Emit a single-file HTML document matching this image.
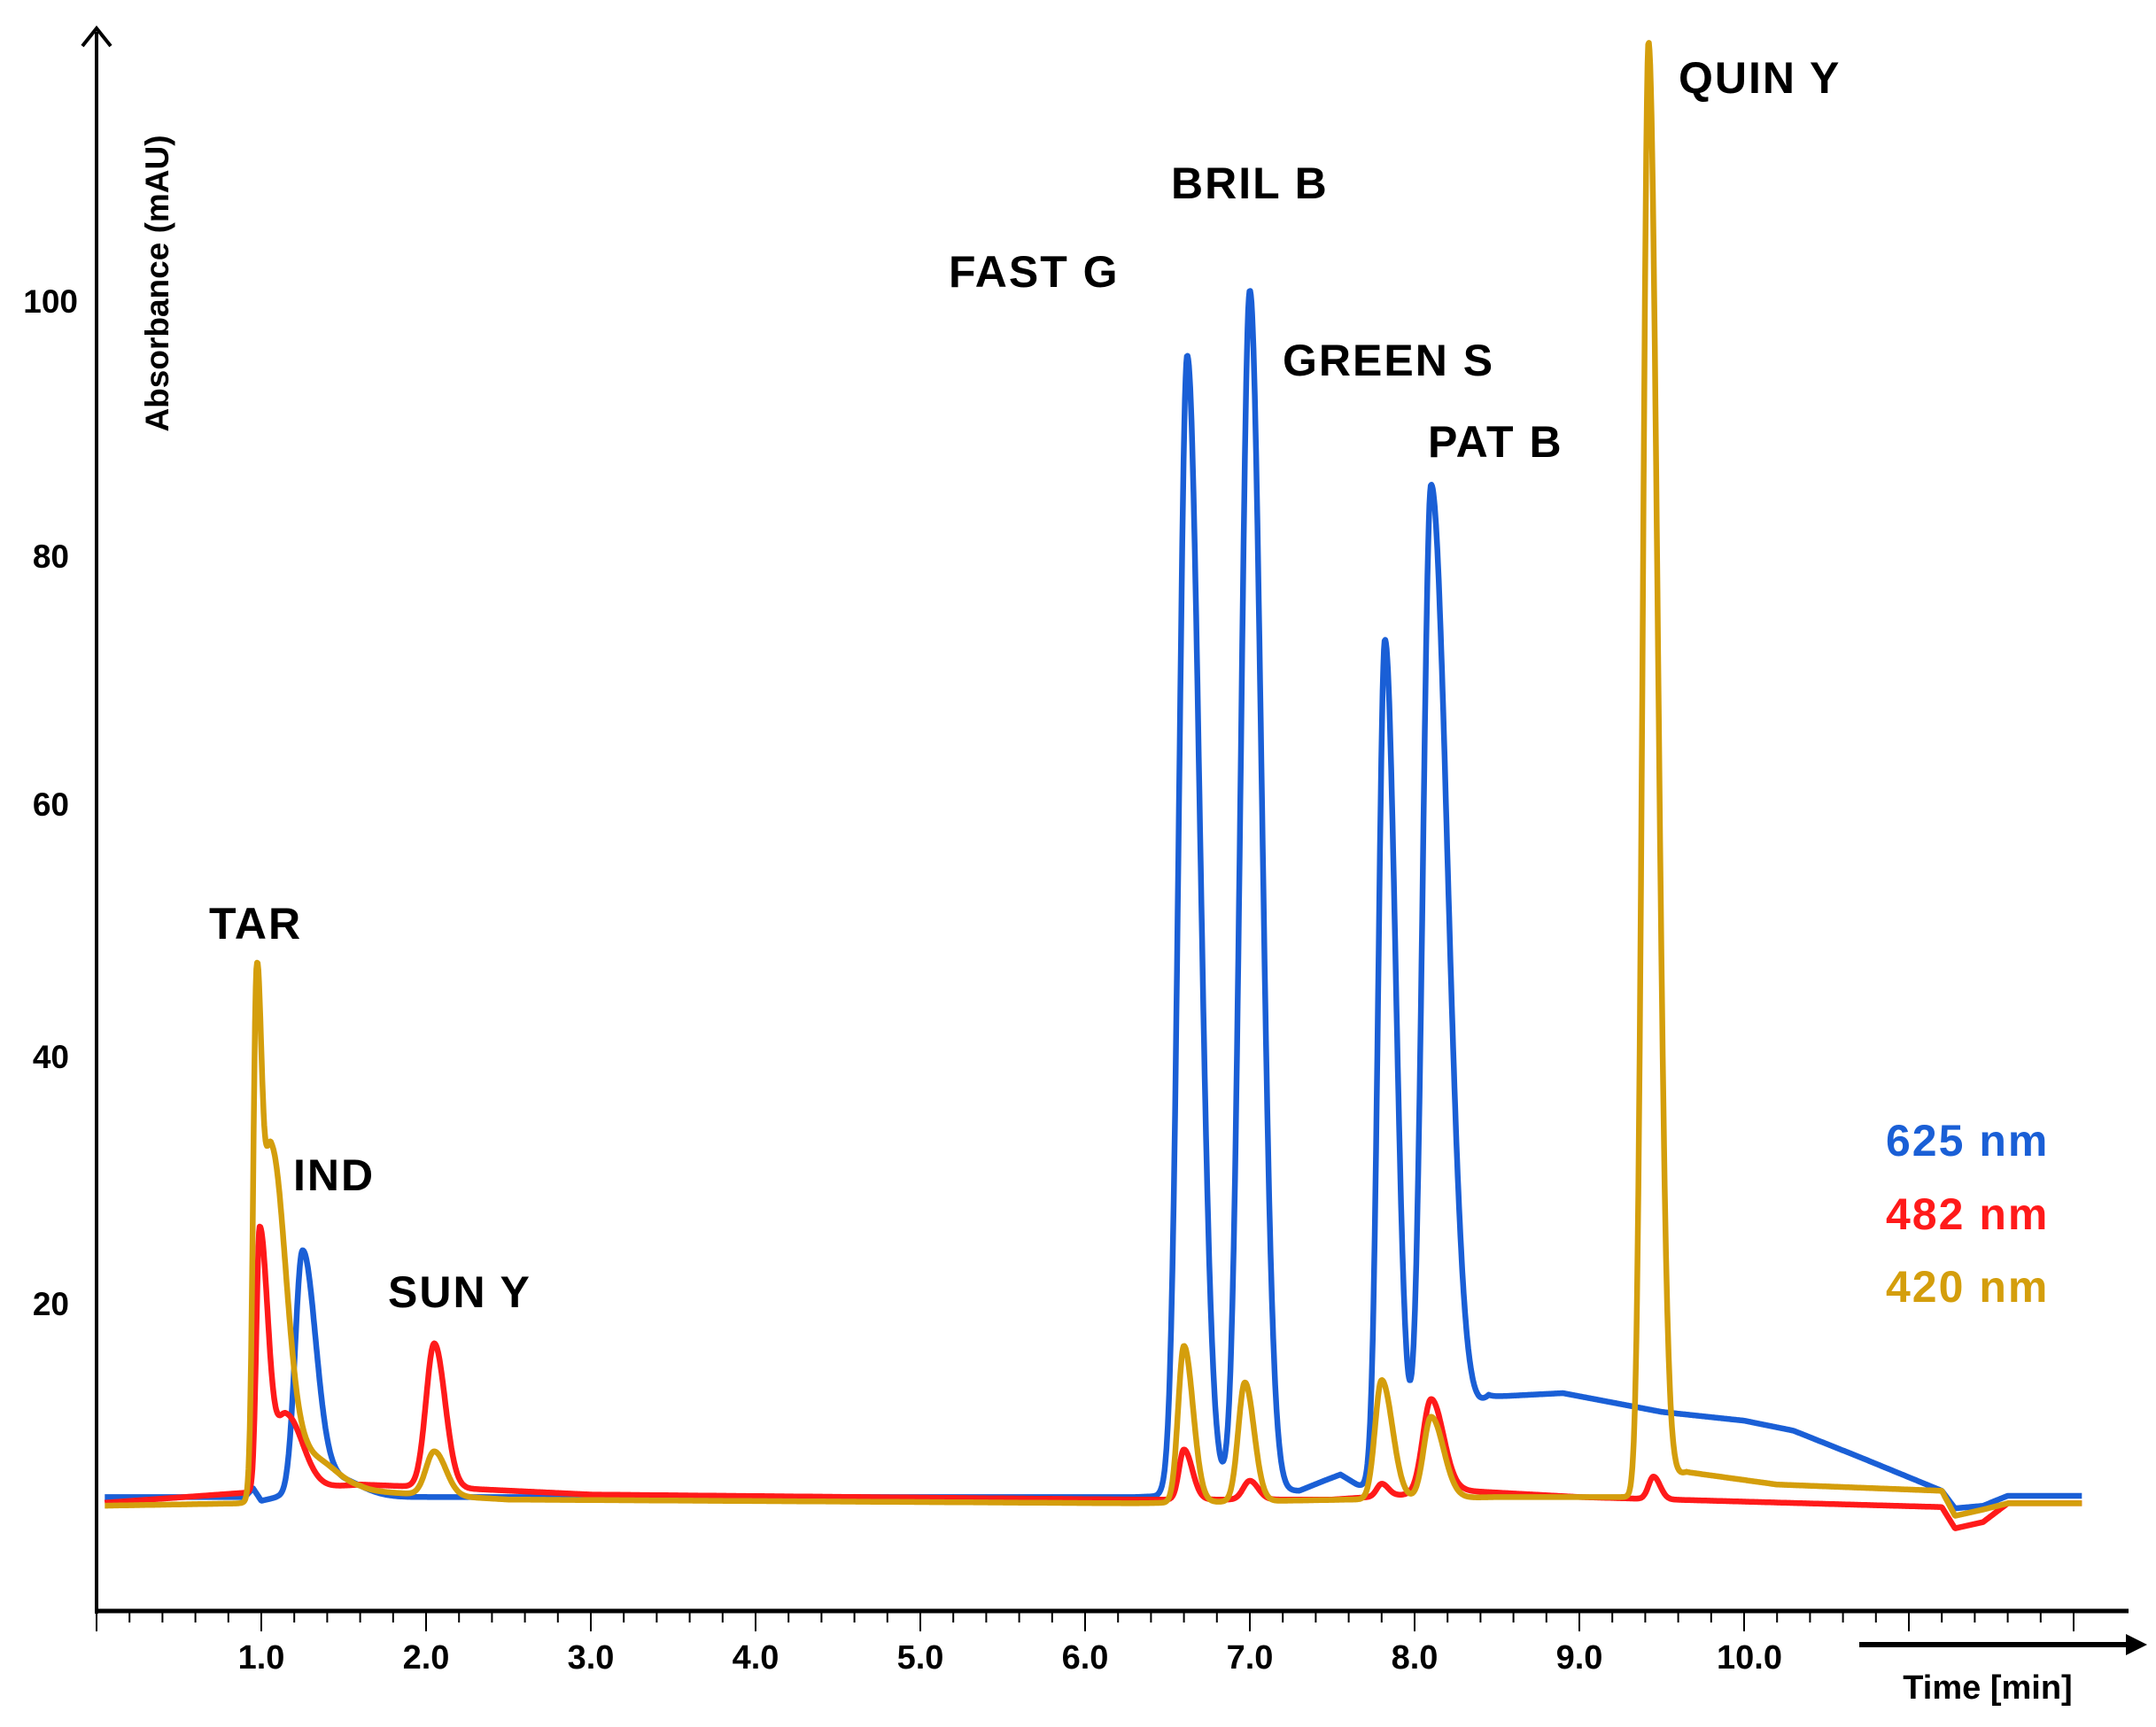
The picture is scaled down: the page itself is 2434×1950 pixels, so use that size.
<!DOCTYPE html>
<html><head><meta charset="utf-8"><style>
html,body{margin:0;padding:0;background:#fff}
svg{display:block}
text{font-family:"Liberation Sans",Arial,sans-serif;font-weight:bold}
</style></head><body>
<svg id="s" width="2434" height="1950" xmlns="http://www.w3.org/2000/svg">
<g id="ticks" stroke="#000" stroke-width="2"></g>
<line x1="109" y1="1819" x2="2403" y2="1819" stroke="#000" stroke-width="5"/>
<line x1="109" y1="1822" x2="109" y2="36" stroke="#000" stroke-width="4"/>
<polyline points="93,52 109,32 125,52" fill="none" stroke="#000" stroke-width="4"/>
<line x1="2099" y1="1857" x2="2405" y2="1857" stroke="#000" stroke-width="6"/>
<polygon points="2400,1845 2424,1857 2400,1869" fill="#000"/>
<g font-size="37" text-anchor="end">
<text x="88" y="353">100</text><text x="78" y="641">80</text><text x="78" y="921">60</text>
<text x="78" y="1206">40</text><text x="78" y="1485">20</text>
</g>
<g font-size="38" text-anchor="middle">
<text x="295" y="1884">1.0</text><text x="481" y="1884">2.0</text><text x="667" y="1884">3.0</text>
<text x="853" y="1884">4.0</text><text x="1039" y="1884">5.0</text><text x="1225" y="1884">6.0</text>
<text x="1411" y="1884">7.0</text><text x="1597" y="1884">8.0</text><text x="1783" y="1884">9.0</text>
<text x="1975" y="1884">10.0</text>
<text x="2244" y="1918" font-size="38">Time [min]</text>
</g>
<text transform="translate(190,320) rotate(-90)" text-anchor="middle" font-size="37">Absorbance (mAU)</text>
<path id="pb" fill="none" stroke="#1a5fd6" stroke-width="6.5" stroke-linejoin="round"/>
<path id="pr" fill="none" stroke="#ff1a1a" stroke-width="6.5" stroke-linejoin="round"/>
<path id="py" fill="none" stroke="#d49e0c" stroke-width="6.5" stroke-linejoin="round"/>
<g font-size="50" letter-spacing="2">
<text x="236" y="1060">TAR</text><text x="331" y="1344">IND</text><text x="438" y="1476">SUN Y</text>
<text x="1071" y="324">FAST G</text><text x="1322" y="224">BRIL B</text><text x="1448" y="424">GREEN S</text>
<text x="1612" y="516">PAT B</text><text x="1895" y="105">QUIN Y</text>
<text x="2129" y="1305" fill="#1a5fd6">625 nm</text>
<text x="2129" y="1388" fill="#ff1a1a">482 nm</text>
<text x="2129" y="1470" fill="#d49e0c">420 nm</text>
</g>
</svg>
<script>
var X=function(t){return 109+186*t},Y=function(v){return 1754-14.14*v};
var tk=document.getElementById('ticks'),h='';
for(var i=0;i<=60;i++){var t=i*0.2,x=X(t);var maj=(i%5==0);h+='<line x1="'+x.toFixed(1)+'" y1="1819" x2="'+x.toFixed(1)+'" y2="'+(maj?1842:1832)+'"/>';}
tk.innerHTML=h;
function interp(pts,t){for(var i=0;i<pts.length-1;i++){if(t<=pts[i+1][0]){var a=pts[i],b=pts[i+1];return a[1]+(b[1]-a[1])*(t-a[0])/(b[0]-a[0]);}}return pts[pts.length-1][1];}
function pk(p,t){var s=t<p[0]?p[2]:p[3];var d=t-p[0];return p[1]*Math.exp(-d*d/(2*s*s));}
function build(id,base,peaks){var d='';for(var t=0.05;t<=12.05;t+=0.004){var v=interp(base,t);for(var j=0;j<peaks.length;j++)v+=pk(peaks[j],t);d+=(d?'L':'M')+X(t).toFixed(1)+' '+Y(v).toFixed(1);}document.getElementById(id).setAttribute('d',d);}
build('pb',[[0,4.5],[0.9,4.5],[0.95,5.2],[1.0,4.2],[1.1,4.5],[6.3,4.5],[7.3,5],[7.45,5.8],[7.55,6.3],[7.65,5.5],[7.75,5],[8.2,8],[8.45,12.5],[8.9,12.8],[9.5,11.3],[10.0,10.6],[10.3,9.8],[10.7,7.7],[11.2,5],[11.28,3.6],[11.45,3.8],[11.6,4.6],[12.05,4.6]],
 [[1.25,19.5,0.045,0.08],[1.45,1.5,0.1,0.15],[6.62,91,0.05,0.075],[7.0,96,0.055,0.07],[7.82,67.5,0.04,0.065],[8.1,78,0.05,0.1]]);
build('pr',[[0,4],[1.6,5.5],[2.2,5.2],[3,4.7],[6.3,4.3],[7.5,4.3],[8.3,5],[9.0,4.5],[11.2,3.7],[11.28,2],[11.45,2.5],[11.6,4],[12.05,4]],
 [[0.99,21,0.02,0.05],[1.15,6,0.06,0.1],[2.05,11.5,0.05,0.065],[6.6,4,0.03,0.05],[7.0,1.5,0.04,0.05],[7.8,1.0,0.03,0.04],[8.1,7.5,0.05,0.075],[9.45,1.8,0.03,0.04]]);
build('py',[[0,3.8],[0.9,4],[1.6,5],[2.5,4.3],[6.3,4.0],[8.5,4.5],[9.3,4.5],[9.65,6.5],[10.2,5.5],[11.2,5],[11.28,3],[11.45,3.5],[11.6,4],[12.05,4]],
 [[0.97,37,0.02,0.03],[1.06,28,0.05,0.09],[1.3,3,0.1,0.15],[2.05,3.5,0.05,0.07],[6.6,12.5,0.035,0.055],[6.97,9.5,0.04,0.055],[7.8,9.5,0.04,0.065],[8.1,6.5,0.045,0.075],[9.42,115.5,0.035,0.055]]);
</script>
</body></html>
